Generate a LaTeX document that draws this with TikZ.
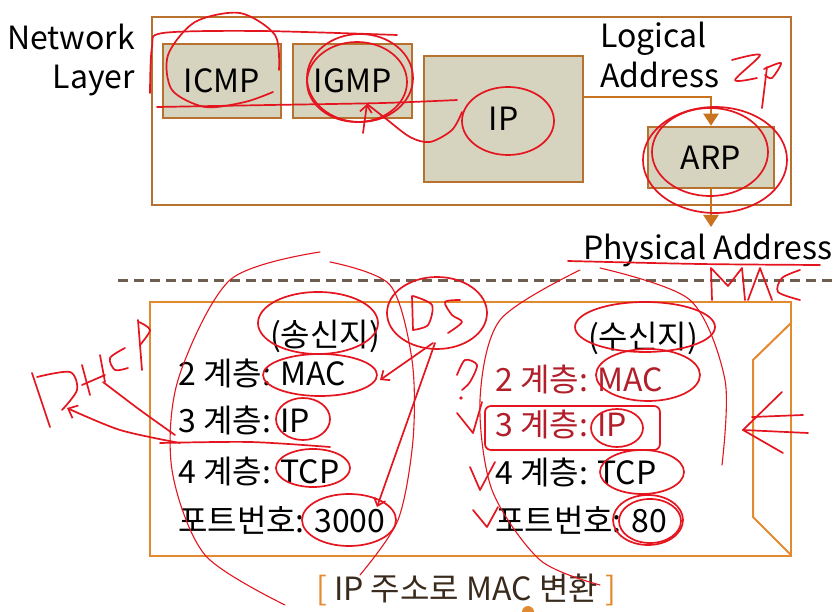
\documentclass[tikz,border=0pt]{standalone}
\usepackage{fontspec}
\setmainfont{Noto Sans CJK KR}
\usetikzlibrary{arrows.meta}
\definecolor{topbrd}{HTML}{B8722F}
\definecolor{botbrd}{HTML}{E38A30}
\definecolor{boxfill}{HTML}{D6D3BF}
\definecolor{arrcol}{HTML}{C9731F}
\definecolor{dashcol}{HTML}{6E5E50}
\definecolor{redtxt}{HTML}{B21F2A}
\definecolor{pen}{HTML}{E4151F}
\definecolor{captxt}{HTML}{3A2A1C}
\tikzset{
  frame/.style={draw=topbrd, line width=2.5pt, inner sep=0pt},
  protobox/.style={draw=topbrd, fill=boxfill, line width=2.5pt, inner sep=0pt},
  lowframe/.style={draw=botbrd, line width=2pt, inner sep=0pt},
  conn/.style={draw=arrcol, line width=2.2pt, -{Triangle[width=15pt,length=12pt]}},
  big/.style={font=\fontsize{32}{36}\selectfont, inner sep=0pt},
  hand/.style={draw=pen, line width=1.7pt, line cap=round, line join=round},
  thinhand/.style={draw=pen, line width=1.1pt, line cap=round, line join=round},
}
\begin{document}
\begin{tikzpicture}[x=1pt,y=-1pt]
\useasboundingbox (0,0) rectangle (836,612);
\fill[white] (0,0) rectangle (836,612);
% top frame and protocol boxes
\node[frame, minimum width=639pt, minimum height=188pt] (top) at (471.5,111) {};
\node[protobox, minimum width=118pt, minimum height=74pt] (icmp) at (222,81) {};
\node[protobox, minimum width=119pt, minimum height=74pt] (igmp) at (352.5,81) {};
\node[protobox, minimum width=159pt, minimum height=126pt] (ip) at (503.5,119) {};
\node[protobox, minimum width=126pt, minimum height=61pt] (arp) at (711,157.5) {};
\node[big] (icmpt) at (icmp) {ICMP};
\node[big] (igmpt) at (igmp) {IGMP};
\node[big] (ipt) at (ip) {IP};
\node[big] (arpt) at (arp) {ARP};
\node[big, anchor=base east] (netw) at (135,50) {Network};
\node[big, anchor=base east] (layer) at (135,89) {Layer};
\node[big, anchor=base west] (logi) at (600,48) {Logical};
\node[big, anchor=base west] (addr) at (600,88) {Address};
\node[big, anchor=base west] (phys) at (583,260) {Physical Address};
\coordinate (pa) at (711,227);
\draw[conn] ([yshift=22pt]ip.east) -| (arp.north);
\draw[conn] (arp.south) -- (pa);
% dashed separator
\coordinate (d1) at (118,281);
\coordinate (d2) at (836,281);
\draw[dashcol, line width=3pt, dash pattern=on 10pt off 6pt] (d1) -- (d2);
% bottom frame
\node[lowframe, minimum width=641pt, minimum height=254pt] (bot) at (470.5,429) {};
\draw[botbrd, line width=2pt] (791,323) -- (753,360) -- (753,517) -- (791,555);
% sender
\node[big] (snd) at (325,336) {(송신지)};
\node[big, anchor=base west] (s2) at (178,386) {2 계층: MAC};
\node[big, anchor=base west] (s3) at (178,432) {3 계층: IP};
\node[big, anchor=base west] (s4) at (178,483) {4 계층: TCP};
\node[big, anchor=base west] (s5) at (178,532) {포트번호: 3000};
% receiver
\node[big] (rcv) at (643,338) {(수신지)};
\node[big, anchor=base west, text=redtxt] (r2) at (495,392) {2 계층: MAC};
\node[big, anchor=base west, text=redtxt] (r3) at (495,436) {3 계층: IP};
\node[big, anchor=base west] (r4) at (495,484) {4 계층: TCP};
\node[big, anchor=base west] (r5) at (495,532) {포트번호: 80};
% caption
\node[big, text=captxt] (cap) at (466,590) {\textcolor{botbrd}{[} IP 주소로 MAC 변환 \textcolor{botbrd}{]}};
\fill[botbrd] (528,612) circle (6pt);
% ---------------- handwritten annotations ----------------
% top area
\draw[hand] plot[smooth] coordinates {(279,70) (275,35) (240,13) (195,22) (168,55) (172,90) (205,107) (245,102) (273,92)};
\draw[hand] plot[smooth] coordinates {(150,93) (152,47) (163,33) (260,31) (397,35)};
\draw[hand] plot[smooth] coordinates {(157,107) (270,105) (383,103) (457,100)};
\draw[hand] (360,78) ellipse [x radius=53pt, y radius=44pt];
\draw[hand] (357,82) ellipse [x radius=50pt, y radius=40pt];
\draw[hand, -{Straight Barb[length=7pt,width=12pt]}] (363,133) -- (367,104);
\draw[hand] plot[smooth] coordinates {(367,104) (385,118) (410,137) (430,142) (452,130) (462,112)};
\draw[hand] (508,121) ellipse [x radius=46pt, y radius=34pt];
\draw[hand] (710,152) ellipse [x radius=58pt, y radius=44pt];
\draw[hand] (715,160) ellipse [x radius=72pt, y radius=53pt];
\draw[hand] plot[smooth] coordinates {(732,60) (760,55) (735,80) (757,78)};
\draw[hand] (767,67) -- (762,108);
\draw[hand] plot[smooth] coordinates {(764,69) (781,63) (772,78) (765,75)};
\draw[hand] plot[smooth] coordinates {(568,261) (700,264) (820,265)};
\draw[hand] plot coordinates {(712,300) (711,268) (728,286) (742,268) (745,300)};
\draw[hand] plot coordinates {(748,300) (760,268) (772,300)};
\draw[hand] plot[smooth] coordinates {(800,270) (782,278) (778,292) (800,300)};
% bottom-left area
\draw[thinhand] plot[smooth] coordinates {(320,252) (230,280) (178,380) (172,470) (205,555) (285,605)};
\draw[thinhand] plot[smooth] coordinates {(330,262) (390,285) (412,360) (413,440) (398,520) (360,575)};
\draw[hand] (318,323) ellipse [x radius=60pt, y radius=31pt];
\draw[hand] (437,313) ellipse [x radius=50pt, y radius=36pt];
\draw[hand] plot[smooth] coordinates {(412,296) (413,330)};
\draw[hand] plot[smooth] coordinates {(413,296) (432,305) (428,325) (413,330)};
\draw[hand] plot[smooth] coordinates {(460,300) (445,302) (452,315) (462,322) (448,333)};
\draw[hand] (320,375) ellipse [x radius=57pt, y radius=21pt];
\draw[hand, -{Straight Barb[length=7pt,width=12pt]}] (433,343) -- (380,380);
\draw[hand, -{Straight Barb[length=7pt,width=12pt]}] (435,343) -- (377,507);
\draw[hand] (303,419) ellipse [x radius=27pt, y radius=21pt];
\draw[hand] (313,468) ellipse [x radius=37pt, y radius=19pt];
\draw[hand] (349,520) ellipse [x radius=47pt, y radius=26pt];
\draw[hand] plot[smooth] coordinates {(160,443) (250,442) (330,447)};
% DHCP
\draw[hand] (32,373) -- (50,427);
\draw[hand] plot[smooth] coordinates {(37,377) (70,372) (77,390) (62,410)};
\draw[hand] (82,365) -- (90,395);
\draw[hand] (82,385) -- (105,375);
\draw[hand] (100,355) -- (105,382);
\draw[hand] plot[smooth] coordinates {(125,348) (110,358) (115,370) (128,368)};
\draw[hand] (138,320) -- (142,370);
\draw[hand] plot[smooth] coordinates {(139,322) (150,330) (140,345)};
\draw[hand, -{Straight Barb[length=8pt,width=14pt]}] plot[smooth] coordinates {(180,443) (120,430) (67,408)};
\draw[hand] plot[smooth] coordinates {(103,382) (140,410) (175,435)};
% bottom-right area
\draw[thinhand] plot[smooth] coordinates {(580,270) (500,320) (480,400) (492,490) (540,560) (600,585)};
\draw[thinhand] plot[smooth] coordinates {(600,268) (690,300) (725,380) (722,465)};
\draw[hand] (645,327) ellipse [x radius=70pt, y radius=25pt];
\draw[hand] (648,375) ellipse [x radius=52pt, y radius=26pt];
\draw[hand, rounded corners=6pt] (485,406) rectangle (660,450);
\draw[hand] (617,428) ellipse [x radius=26pt, y radius=19pt];
\draw[hand] (642,472) ellipse [x radius=42pt, y radius=22pt];
\draw[hand] (648,520) ellipse [x radius=35pt, y radius=25pt];
\draw[hand] (650,521) ellipse [x radius=31pt, y radius=22pt];
\draw[hand] plot[smooth] coordinates {(457,375) (465,360) (477,365) (470,382) (462,390)};
\fill[pen] (461,398) circle (1.8pt);
\draw[hand] (457,413) -- (473,433) -- (482,402);
\draw[hand] (470,467) -- (480,490) -- (495,462);
\draw[hand] (473,510) -- (487,527) -- (498,507);
\draw[hand] (743,430) -- (808,433);
\draw[hand] (752,417) -- (803,415);
\draw[hand] (782,392) -- (743,430) -- (783,453);
\end{tikzpicture}
\end{document}
